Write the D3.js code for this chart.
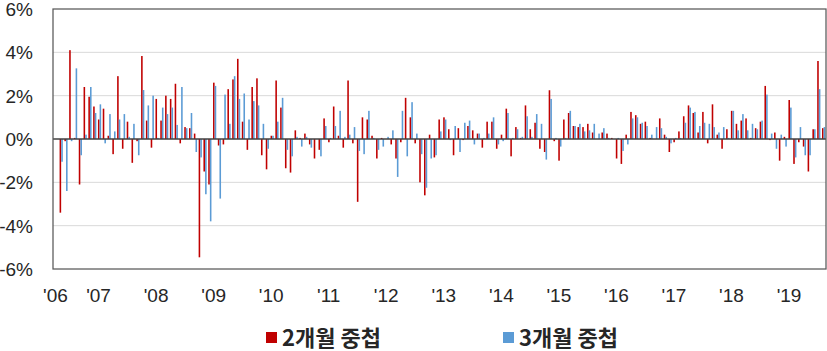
<!DOCTYPE html>
<html>
<head>
<meta charset="utf-8">
<script src="https://cdn.jsdelivr.net/npm/d3@7"></script>
<style>
  body { margin: 0; background: #fff; }
  svg { display: block; }
  .tick-label { font-family: "Liberation Sans", Arial, sans-serif; font-size: 19px; fill: #262626; }
  .legend-label { font-family: "Noto Sans CJK KR", sans-serif; font-size: 22px; font-weight: bold; fill: #262626; }
</style>
</head>
<body>
<div id="chart"></div>
<script>
// months from Apr 2006 (empty first slot) to Aug 2019
const startYear = 2006;
const startMonth = 4;

const seriesNames = ["2개월 중첩", "3개월 중첩"];
const yTicks = [-6, -4, -2, 0, 2, 4, 6];

const twoMonth = [null,
  -3.4, -0.1, 4.1, 0.05, -2.1, 2.4, 1.95, 1.5, 0.9, 1.4,
  0.15, -0.7, 2.9, -0.45, 0.8, -1.1, -0.1, 3.83, 0.85, -0.4,
  1.85, 0.85, 2.0, 1.85, 2.55, -0.2, 0.55, 0.5, 0.25, -5.46,
  -1.5, -2.1, 2.6, -0.3, -0.25, 2.3, 2.75, 3.7, 0.8, -0.5,
  2.4, 2.8, -0.75, -1.4, 0.15, 2.7, 1.45, -1.35, -1.55, 0.4,
  0.05, 0.25, -0.25, -0.9, -0.5, 0.95, -0.15, 1.5, 0.15, -0.4,
  2.7, -0.2, -2.9, 1.0, 0.9, 0.15, -0.9, 0.05, 0.0, -0.25,
  -0.9, -0.15, 1.9, 1.0, -0.2, -2.0, -2.6, 0.2, -0.85, 0.9,
  1.0, 0.45, -0.75, 0.5, -0.05, 0.6, 0.4, 0.25, -0.4, 0.8,
  0.8, -0.45, 0.2, 1.4, -0.8, 0.55, 0.05, 1.55, 0.45, 0.75,
  -0.45, -0.6, 2.25, -0.1, -1.0, 0.9, 1.2, 0.6, 0.55, 0.55,
  0.7, 0.3, 0.0, 0.3, 0.25, 0.05, -0.9, -1.15, 0.2, 1.25,
  1.1, 0.7, 0.8, 0.05, 0.0, 0.95, 0.2, -0.6, -0.15, 0.35,
  1.05, 1.55, 1.2, 0.3, 1.25, -0.2, 1.6, 0.2, -0.45, 0.45,
  1.3, 0.7, 0.85, 0.95, 0.05, 0.5, 0.8, 2.45, -0.05, 0.3,
  -1.0, 0.1, 1.8, -1.15, -0.15, -0.35, -1.5, 0.45, 3.6, 0.5
];

const threeMonth = [null,
  -1.05, -2.4, -0.1, 3.26, -0.75, 0.2, 2.4, 1.2, 1.6, -0.2,
  1.15, 0.35, 0.9, 1.15, 0.1, 0.7, -0.75, 2.26, 1.55, 2.0,
  0.05, 1.45, 1.15, 1.45, 0.65, 2.4, 0.5, 1.2, -0.6, -0.85,
  -2.55, -3.8, 2.45, -2.75, 2.05, 0.7, 2.9, 1.85, 2.1, 0.9,
  1.75, 1.55, 0.7, -0.45, 0.15, 0.8, 1.9, -0.5, -0.8, 0.1,
  -0.35, 0.1, -0.4, 0.0, -0.8, 0.6, 0.05, 0.6, 1.3, 0.1,
  0.2, 0.55, -0.55, -0.7, 1.3, 0.05, -0.5, -0.35, 0.1, 0.4,
  -1.75, 1.3, -0.8, 1.7, 0.25, -0.7, -2.25, -0.9, -0.75, 0.35,
  0.9, -0.05, 0.6, -0.6, 0.75, 0.85, -0.25, 0.25, 0.05, 0.25,
  1.0, -0.25, -0.1, 1.2, 0.05, 0.45, 0.1, 1.05, 0.1, 1.15,
  0.7, -0.95, 1.85, 0.05, -0.35, 0.05, 1.3, 0.6, 0.7, 0.35,
  0.4, 0.7, 0.25, 0.5, 0.05, 0.0, 0.05, -0.55, -0.25, 0.95,
  1.0, 0.75, 0.6, 0.2, 0.55, 0.5, 0.1, -0.2, 0.05, 0.05,
  0.75, 1.45, 1.25, 0.6, 0.75, 0.7, 0.55, 0.3, 0.55, 0.05,
  1.3, 0.4, 1.15, 0.4, 0.7, 0.45, 0.85, 2.05, 0.25, -0.45,
  0.2, -0.35, 1.45, -0.85, 0.55, -0.75, -0.75, 0.45, 2.3, 0.55
];

const colors = ["#c00000", "#5b9bd5"];

const months = twoMonth.map((d, i) => {
  const m = startMonth - 1 + i;
  return { key: i, year: startYear + Math.floor(m / 12), month: (m % 12) + 1 };
});

const width = 827, height = 351;
const plot = { left: 53, right: 826, top: 9, bottom: 269 };

const svg = d3.select('#chart').append('svg')
  .attr('width', width)
  .attr('height', height);

const x = d3.scaleBand()
  .domain(months.map(d => d.key))
  .range([54, 826])
  .paddingInner(0)
  .paddingOuter(0);

const xs = d3.scaleBand()
  .domain([0, 1])
  .range([0.7, x.bandwidth() - 0.7])
  .padding(0.05);

const y = d3.scaleLinear()
  .domain([-6, 6])
  .range([plot.bottom, plot.top]);

// grid lines
svg.append('g')
  .selectAll('line')
  .data(yTicks.filter(t => t !== 0 && Math.abs(t) !== 6))
  .enter().append('line')
  .attr('x1', plot.left)
  .attr('x2', plot.right)
  .attr('y1', d => y(d))
  .attr('y2', d => y(d))
  .attr('stroke', '#d9d9d9')
  .attr('stroke-width', 1);

// bars
const seriesData = [twoMonth, threeMonth];
seriesData.forEach((vals, s) => {
  svg.append('g')
    .selectAll('rect')
    .data(vals.map((v, i) => ({ i, v })).filter(d => d.v !== null))
    .enter().append('rect')
    .attr('x', d => x(d.i) + xs(s))
    .attr('width', xs.bandwidth())
    .attr('y', d => y(Math.max(0, d.v)))
    .attr('height', d => Math.abs(y(d.v) - y(0)))
    .attr('fill', colors[s]);
});

// zero line
svg.append('line')
  .attr('x1', plot.left)
  .attr('x2', plot.right)
  .attr('y1', y(0))
  .attr('y2', y(0))
  .attr('stroke', '#404040')
  .attr('stroke-width', 1.5);

// frame
svg.append('rect')
  .attr('x', plot.left)
  .attr('y', plot.top)
  .attr('width', plot.right - plot.left)
  .attr('height', plot.bottom - plot.top)
  .attr('fill', 'none')
  .attr('stroke', '#595959')
  .attr('stroke-width', 1.25);

// y labels
svg.append('g')
  .selectAll('text')
  .data(yTicks)
  .enter().append('text')
  .attr('class', 'tick-label')
  .attr('x', 33)
  .attr('y', d => y(d) + 7)
  .attr('text-anchor', 'end')
  .text(d => d + '%');

// x labels: first slot and every January
const xLabels = months.filter((d, i) => i === 0 || d.month === 1);
svg.append('g')
  .selectAll('text')
  .data(xLabels)
  .enter().append('text')
  .attr('class', 'tick-label')
  .attr('x', d => x(d.key) + x.bandwidth() / 2 - 1)
  .attr('y', 302)
  .attr('text-anchor', 'middle')
  .text(d => "'" + String(d.year).slice(2));

// legend
const legendX = [266, 503];
const legend = svg.append('g');
legend.selectAll('rect')
  .data(seriesNames)
  .enter().append('rect')
  .attr('x', (d, i) => legendX[i])
  .attr('y', 332)
  .attr('width', 11)
  .attr('height', 11)
  .attr('fill', (d, i) => colors[i]);

legend.selectAll('text')
  .data(seriesNames)
  .enter().append('text')
  .attr('class', 'legend-label')
  .attr('x', (d, i) => legendX[i] + 16)
  .attr('y', 346)
  .text(d => d);
</script>
</body>
</html>
